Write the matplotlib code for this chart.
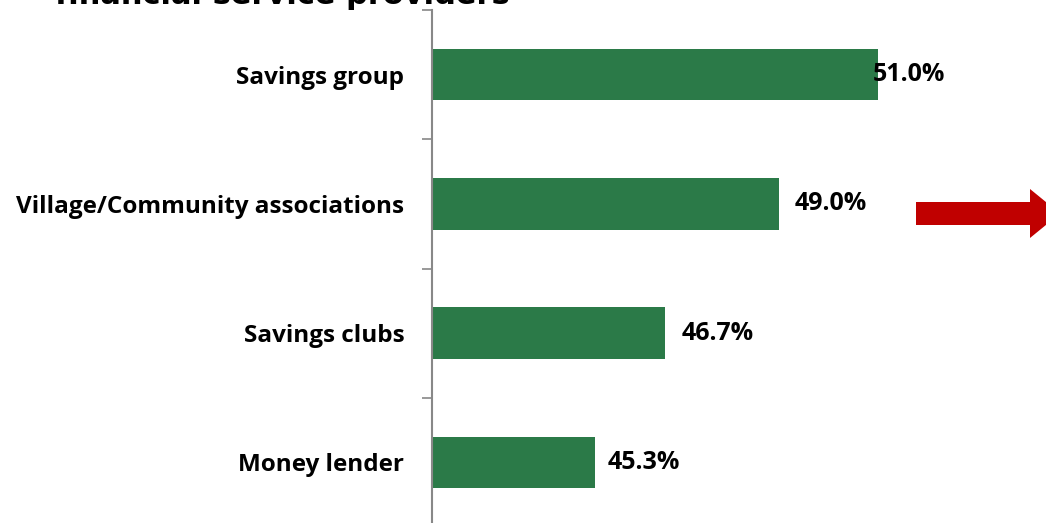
import matplotlib.pyplot as plt
from matplotlib.patches import Polygon

plt.rcParams['font.family'] = ['Open Sans', 'DejaVu Sans']

# Share of respondents using each informal provider (%)
providers = ['Savings group', 'Village/Community associations', 'Savings clubs', 'Money lender']
shares = [51.0, 49.0, 46.7, 45.3]
label_offsets = [-5, 16, 17, 12]  # px gap between bar end and value label

fig = plt.figure(figsize=(10.46, 5.23), dpi=100)
ax = fig.add_axes([432 / 1046, -4 / 523, 620 / 1046, 517 / 523])

ypos = list(range(len(providers)))
ax.barh(ypos, shares, height=0.4, color='#2B7A48', left=0)
ax.set_xlim(42, 42 + 620 / 49.5)
ax.set_ylim(len(providers) - 0.5, -0.5)

for y, v, off in zip(ypos, shares, label_offsets):
    ax.annotate(f'{v:.1f}%', (v, y), xytext=(off * 0.72, 0), textcoords='offset points',
                ha='left', va='center', fontsize=18, fontweight='bold', color='black')

ax.set_yticks(ypos)
ax.set_yticklabels(providers, fontsize=17.5, fontweight='bold')
ax.tick_params(axis='y', length=0, pad=20)
# category boundary ticks
ax.set_yticks([i - 0.5 for i in range(len(providers) + 1)], minor=True)
ax.tick_params(axis='y', which='minor', length=7, width=1.2, color='#888888')
ax.set_xticks([])
for s in ['top', 'right', 'bottom']:
    ax.spines[s].set_visible(False)
ax.spines['left'].set_color('#888888')
ax.spines['left'].set_linewidth(1.5)

fig.text(55 / 1046, 1 - 4 / 523, 'financial service providers', fontsize=22,
         fontweight='bold', ha='left', va='baseline', family=['DejaVu Sans'])

# red arrow pointing right, running off the edge
W, H = 1046, 523
pts = [(916, 202), (1030, 202), (1030, 189), (1060, 213.5), (1030, 238), (1030, 225), (916, 225)]
arrow = Polygon([(x / W, 1 - y / H) for x, y in pts], closed=True, transform=fig.transFigure,
                facecolor='#C00000', edgecolor='none', clip_on=False)
fig.patches.append(arrow)

fig.savefig('out.png', dpi=100)
